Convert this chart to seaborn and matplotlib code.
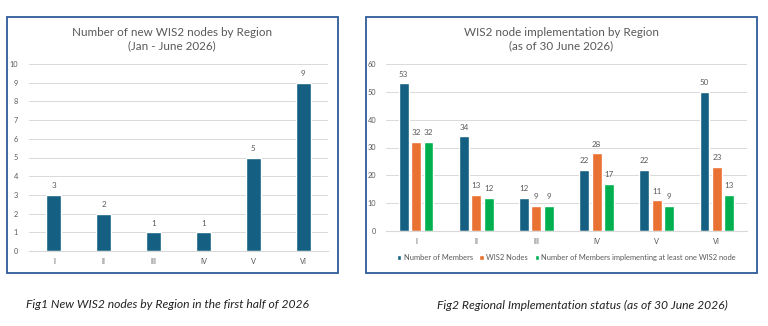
import numpy as np
import pandas as pd
import matplotlib
matplotlib.use("Agg")
import matplotlib.pyplot as plt
from matplotlib.patches import Rectangle
import seaborn as sns

regions = ["I", "II", "III", "IV", "V", "VI"]
new_nodes = [3, 2, 1, 1, 5, 9]

members = [53, 34, 12, 22, 22, 50]
wis2_nodes = [32, 13, 9, 28, 11, 23]
members_impl = [32, 12, 9, 17, 9, 13]
series_names = ["Number of Members", "WIS2 Nodes",
                "Number of Members implementing at least one WIS2 node"]

blue = "#156082"
orange = "#E97132"
green = "#00B050"
grey_txt = "#595959"
grid_c = "#D9D9D9"

sns.set_theme(style="white")
plt.rcParams['font.family'] = ['Lato', 'DejaVu Sans']

fig = plt.figure(figsize=(7.68, 3.26), dpi=100)
W, H = 768, 326


def fx(px):
    return px / W


def fy(py):
    return 1 - py / H


# panel frames
for x0, x1 in [(7, 338), (366, 757)]:
    fig.patches.append(Rectangle((fx(x0), fy(273)), fx(x1 - x0), (273 - 17) / H,
                                 transform=fig.transFigure, fill=False,
                                 edgecolor="#2E5C9A", linewidth=1.3))


def style_ax(ax, ymax, step):
    ax.set_ylim(0, ymax)
    ax.set_yticks(np.arange(0, ymax + 1, step))
    ax.yaxis.grid(True, color=grid_c, linewidth=0.7)
    ax.set_axisbelow(True)
    for s in ["top", "right", "left"]:
        ax.spines[s].set_visible(False)
    ax.spines["bottom"].set_color(grid_c)
    ax.spines["bottom"].set_linewidth(0.8)
    ax.tick_params(axis="both", length=0, labelsize=5.3, colors=grey_txt)
    ax.set_xlabel("")
    ax.set_ylabel("")


# ---- Fig 1
ax1 = fig.add_axes([fx(29), fy(251), fx(328 - 29), (251 - 64) / H])
df1 = pd.DataFrame({"Region": regions, "Nodes": new_nodes})
sns.barplot(data=df1, x="Region", y="Nodes", color=blue, width=0.3,
            saturation=1, ax=ax1)
style_ax(ax1, 10, 1)
ax1.tick_params(axis="x", pad=5)
ax1.tick_params(axis="y", pad=8)
for c in ax1.containers:
    ax1.bar_label(c, fontsize=5.8, color=grey_txt, padding=4)
fig.text(fx(172), fy(39), "Number of new WIS2 nodes by Region\n(Jan - June 2026)",
         ha="center", va="center", fontsize=8.4, color=grey_txt, linespacing=1.3)

# ---- Fig 2
ax2 = fig.add_axes([fx(386), fy(231), fx(747 - 386), (231 - 64) / H])
df2 = pd.DataFrame({
    "Region": regions * 3,
    "Series": np.repeat(series_names, len(regions)),
    "Value": members + wis2_nodes + members_impl,
})
sns.barplot(data=df2, x="Region", y="Value", hue="Series",
            palette=[blue, orange, green], width=0.62, gap=0.2,
            saturation=1, ax=ax2)
style_ax(ax2, 60, 10)
ax2.tick_params(axis="x", pad=5)
ax2.tick_params(axis="y", pad=7)
for c in ax2.containers:
    ax2.bar_label(c, fontsize=5.8, color=grey_txt, padding=4)
ax2.legend(loc="upper center", bbox_to_anchor=(0.5, -0.1), ncol=3, frameon=False,
           fontsize=5.4, handlelength=0.6, handleheight=0.6, handletextpad=0.3,
           columnspacing=0.9, labelcolor=grey_txt)
fig.text(fx(561), fy(39), "WIS2 node implementation by Region\n(as of 30 June 2026)",
         ha="center", va="center", fontsize=8.4, color=grey_txt, linespacing=1.3)

# captions
fig.text(fx(167), fy(305), "Fig1 New WIS2 nodes by Region in the first half of 2026",
         ha="center", va="center", fontsize=8.7, style="italic", color="#222222")
fig.text(fx(582), fy(305), "Fig2 Regional Implementation status (as of 30 June 2026)",
         ha="center", va="center", fontsize=8.7, style="italic", color="#222222")

fig.savefig("out.png", dpi=100)
